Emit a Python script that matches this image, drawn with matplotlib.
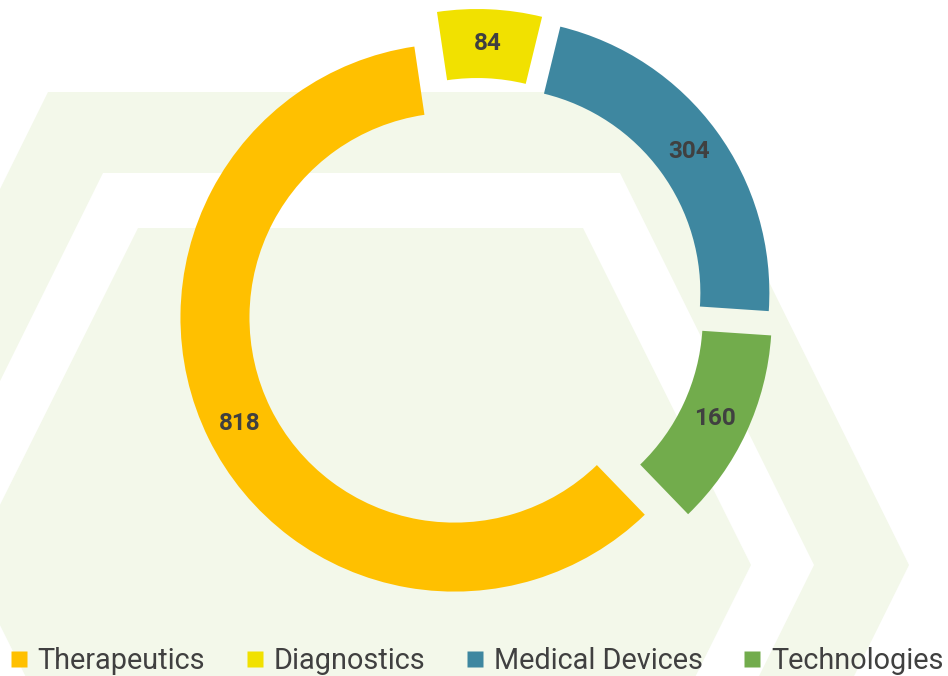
import matplotlib.pyplot as plt
from matplotlib.patches import Polygon
from matplotlib.lines import Line2D

# data
categories = ['Therapeutics', 'Diagnostics', 'Medical Devices', 'Technologies']
counts = [818, 84, 304, 160]
colors = ['#FFC000', '#F1E100', '#3E87A0', '#72AC4C']

W, H = 948, 676
bg_green = '#F3F8EA'
txt_col = '#404040'

plt.rcParams['font.family'] = ['Roboto', 'DejaVu Sans']

fig = plt.figure(figsize=(W / 100, H / 100), dpi=100)
ax = fig.add_axes([0, 0, 1, 1])

# background hexagon decoration (pixel coords, y measured from top)
def hexagon(left_top, right_top, right_x, mid_y):
    top = left_top[1]
    bot = 2 * mid_y - top
    lx = left_top[0] - (right_x - right_top)
    pts = [(left_top[0], top), (right_top, top), (right_x, mid_y),
           (right_top, bot), (left_top[0], bot), (lx, mid_y)]
    return [(x, H - y) for x, y in pts]

ax.add_patch(Polygon(hexagon((48, 92), 675, 909, 565), closed=True,
                     facecolor=bg_green, edgecolor='none', zorder=0))
ax.add_patch(Polygon(hexagon((103, 173), 620, 814, 565), closed=True,
                     facecolor='white', edgecolor='none', zorder=0.1))
ax.add_patch(Polygon(hexagon((138, 228), 583, 751, 565), closed=True,
                     facecolor=bg_green, edgecolor='none', zorder=0.2))

# donut
R = 274
ring = 69
total = sum(counts)
wedges, _, autotexts = ax.pie(
    counts, colors=colors, radius=R, center=(476, H - 307),
    startangle=-46, counterclock=False, explode=[24] * len(counts),
    wedgeprops=dict(width=ring, edgecolor='none'),
    autopct=lambda p: f'{round(p * total / 100):d}',
    pctdistance=(R - ring / 2) / R,
    textprops=dict(color=txt_col, fontsize=17.5, fontweight='bold'))
for w in wedges:
    w.set_zorder(2)
for t in autotexts:
    t.set_zorder(3)

ax.set_xlim(0, W)
ax.set_ylim(0, H)
ax.set_aspect('equal')
ax.axis('off')

# legend
handles = [Line2D([], [], marker='s', linestyle='none', markersize=11,
                  markerfacecolor=c, markeredgecolor='none') for c in colors]
leg = ax.legend(handles, categories, loc='center left',
                bbox_to_anchor=(10 / W, 15 / H),
                ncol=4, frameon=False, fontsize=20.8, handlelength=0.6,
                handletextpad=0.35, columnspacing=1.42, borderpad=0.0,
                borderaxespad=0.0)
for t in leg.get_texts():
    t.set_color(txt_col)

fig.savefig('out.png', dpi=100)
